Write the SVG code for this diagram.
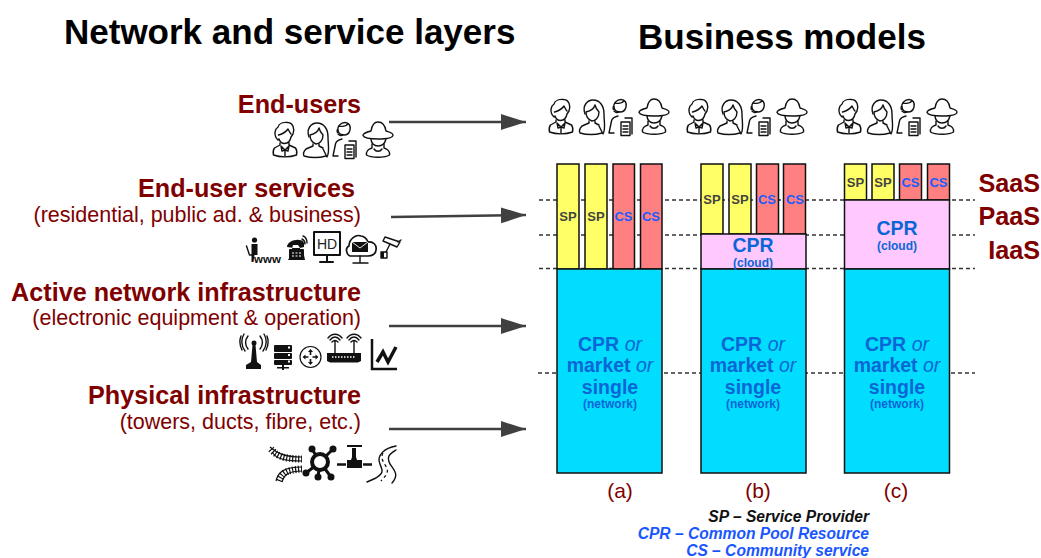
<svg xmlns="http://www.w3.org/2000/svg" xmlns:xlink="http://www.w3.org/1999/xlink" width="1041" height="558" viewBox="0 0 1041 558">
<style>
text{font-family:"Liberation Sans",Arial,sans-serif}
.h{font-size:35px;font-weight:700;fill:#000}
.t{font-size:25.2px;font-weight:700;fill:#800000;text-anchor:end}
.s{font-size:21.5px;fill:#800000;text-anchor:end}
.l{font-size:21px;fill:#800000;text-anchor:middle}
.k{font-size:25.2px;font-weight:700;fill:#800000;text-anchor:end}
.bar{stroke:#111;stroke-width:1.5}
.y{fill:#ffff66}.r{fill:#ff8080}.b{fill:#00ddff}.p{fill:#ffc8ff}
.sp{font-size:13px;font-weight:700;fill:#444;text-anchor:middle}
.cs{font-size:13px;font-weight:700;fill:#1a5cff;text-anchor:middle}
.c1{font-size:19.500px;font-weight:700;fill:#0a66d6;text-anchor:middle}
.c1 .i{font-weight:400;font-style:italic}
.c2{font-size:12px;font-weight:700;fill:#0a66d6;text-anchor:middle}
.leg{font-size:15.600px;font-weight:700;font-style:italic;text-anchor:end}
.d{stroke:#333;stroke-width:1.4;stroke-dasharray:4 3;fill:none}
.a{stroke:#404040;stroke-width:2.6;fill:none}
.ln{fill:none;stroke:#111;stroke-width:1.4;stroke-linecap:round;stroke-linejoin:round}
.f{fill:#111;stroke:none}
</style>
<defs>
<marker id="ah" markerUnits="userSpaceOnUse" markerWidth="26" markerHeight="18" refX="25" refY="8" orient="auto"><path d="M0 0L25 8L0 16Z" fill="#404040"/></marker>
<symbol id="people" overflow="visible" viewBox="0 0 122 38" width="122" height="38">
<g class="ln" stroke-width="1.500">
<path d="M5 18C0 13 2 7 5 5C6 1 11 0 15 0.500C20 1 22 7 20 12L18 15C17 20 14 21.500 11.500 21.500C9 21.500 7 20 6 17Z"/>
<path d="M5.500 13C9 12 13 10 15 7C16 9 17 11 18 12"/>
<path d="M7 21V23L1.500 26C0 28 0 31 0.500 33C7 35.500 17 35.500 23.500 33C24 31 24 28 22.500 26L16 23V21"/>
<path d="M8 24L12 28L16 24L15 29L12 28L9 29Z"/><path d="M12 28V34"/>
<path d="M36 15C33 7 38 1 44 1C51 1 55 7 55 15C55 23 57 30 54 35L50 27"/>
<path d="M37 13C41 12 45 10 46 6C47 10 49 12 50 13C50 19 46 22 43 22C40 21 37 18 37 13Z"/>
<path d="M40 22V24L33 27C31 29 30 32 31 34C38 36 46 36 53 34"/><path d="M46 22V24L50 26"/>
<path d="M65 9C64 4 68 0.500 72 0.500C76 0.500 78 4 77 8C76 12 73 13 71 13C68 13 66 12 65 9Z"/>
<path d="M66 4C69 5 73 4 75 2"/><rect class="f" x="63.500" y="7" width="2" height="4" rx="1"/><path d="M65 12C67 14 69 14 70 12.500"/>
<path d="M69 17C65 18 63 19 62.500 22L60 34H65"/>
<path d="M76 19H83V35"/><path d="M72 23H81V36.500H72Z"/>
<path d="M74 27H79M74 30H79M74 33H79"/>
<path d="M98 9C94 10 90 11 90 13.500C91 16 99 17 105 17C112 17 120 16 120 13C120 11 116 10 113 9C112 3 109 0 105 0C101 0 99 3 98 9Z"/>
<path d="M98 17C98 21 101 24 105 24C109 24 112 21 113 17"/>
<path d="M99 22V26C95 27 93 30 93.500 33C98 36 112 36 116.500 33C117 30 115 27 111 26V22"/><path d="M101 27C103 30 107 30 109 27"/>
</g>
</symbol>
</defs>
<g id="titles">
<text class="h" x="64" y="43.500">Network and service layers</text>
<text class="h" x="638" y="48.500">Business models</text>
</g>
<g id="connectors">
<path class="a" d="M389 122H526" marker-end="url(#ah)"/>
<path class="a" d="M391 217L526 215" marker-end="url(#ah)"/>
<path class="a" d="M389 326H526" marker-end="url(#ah)"/>
<path class="a" d="M389 429H526" marker-end="url(#ah)"/>
<path class="d" d="M539 200H975M539 235H975M539 268.500H975M538 373H975"/>
</g>
<g id="layer-end-users">
<text class="t" x="361" y="112.500">End-users</text>
<use href="#people" x="273" y="122"/>
</g>
<g id="layer-services">
<text class="t" x="355" y="196.500">End-user services</text>
<text class="s" x="361" y="221.500">(residential, public ad. &amp; business)</text>
<g transform="translate(230 85)">
<circle class="f" cx="24.500" cy="155" r="2.600"/><path class="f" d="M21.500 159H27.500V170H24.500L23.500 177H21.500Z"/><path class="ln" d="M16.500 161L19.500 170H22"/>
<text x="24" y="178" font-size="11.500" font-weight="700" fill="#111">www</text>
<path class="f" d="M57 162C57 155 72 152 74 158V162L70 163L68 160H63L62 164L64 165L58 175H75L73 165L70 164V163H64Z"/><rect class="f" x="59" y="164" width="15" height="11" rx="1"/>
<path d="M62 168H71M62 171H71" stroke="#fff" stroke-dasharray="2 1.500"/>
<path class="ln" d="M72 154C74 155 75 157 75 159M73 151C76 152 77 155 77 158"/>
<rect class="ln" x="84" y="147" width="26" height="23" style="stroke-width:2"/><path class="ln" d="M97 170V176M90 177H103" style="stroke-width:2"/>
<text x="97" y="163.500" font-size="14" fill="#222" text-anchor="middle">HD</text>
<path class="ln" d="M120 171C116 169 115 163 119 161C119 154 126 149 131 151C134 151 137 154 138 157C143 156 147 160 146 165C146 169 142 171 138 171Z" style="stroke-width:1.700"/>
<rect class="f" x="122" y="157" width="16" height="10"/><path d="M122 157L130 163L138 157" stroke="#fff" fill="none" stroke-width=".9"/>
<path class="ln" d="M130 171V177M123 178H138"/>
<path class="ln" d="M155 152L170 157L167 162L153 156Z"/><path class="ln" d="M168 157L171 155"/><path class="ln" d="M160 159L156 167"/>
<rect class="f" x="151" y="167" width="3" height="6"/><rect class="ln" x="151" y="167" width="6" height="6"/>
</g>
</g>
<g id="layer-active">
<text class="t" x="361" y="300.500">Active network infrastructure</text>
<text class="s" x="361" y="324.500">(electronic equipment &amp; operation)</text>
<g transform="translate(230 325)">
<circle class="f" cx="24" cy="18" r="2.500"/><path class="f" d="M22.500 20H25.500L27 37L31 40V44H16V40L21 37Z"/>
<path class="ln" d="M18 11C15 15 15 20 18 24M14 9C11 14 11 21 15 26M11 11C9 16 10 21 12 25M30 11C33 15 33 20 30 24M34 9C37 14 37 21 33 26M37 11C39 16 38 21 36 25"/>
<rect class="f" x="44" y="20" width="18" height="7" rx="1"/><rect class="f" x="44" y="28" width="18" height="6" rx="1"/><rect class="f" x="44" y="35" width="18" height="5" rx="1"/>
<path d="M58 22.500H60M58 30H60M58 36.500H60" stroke="#fff" stroke-width="2"/>
<path class="f" d="M52 40H54V42H59V43.500H54V45H52V43.500H47V42H52Z"/>
<circle cx="80.500" cy="32" r="10.500" fill="none" stroke="#111" stroke-width="1.200"/>
<path class="f" d="M80.500 24L83 27H81.300V30H79.700V27H78ZM80.500 40L78 37H79.700V34H81.300V37H83ZM72.500 32L75.500 29.500V31.200H78.500V32.800H75.500V34.500ZM88.500 32L85.500 34.500V32.800H82.500V31.200H85.500V29.500Z"/>
<path class="f" d="M97 28H131V36L128 37.500H100L97 36Z"/><path d="M102 32H126" stroke="#fff" stroke-width="1.500" stroke-dasharray="1.500 1.500"/>
<path class="ln" d="M105 28V16M124 28V16M100 15C103 11 107 11 110 15M119 15C122 11 126 11 129 15M102 17C104 15 106 15 108 17M121 17C123 15 125 15 127 17M98 13C102 8 108 8 112 13M117 13C121 8 127 8 131 13"/>
<path d="M142 14V44H167" fill="none" stroke="#111" stroke-width="2.500"/>
<path d="M147 37L153 27L158 37L166 22" fill="none" stroke="#111" stroke-width="3.500"/>
</g>
</g>
<g id="layer-physical">
<text class="t" x="361" y="403.500">Physical infrastructure</text>
<text class="s" x="361" y="428.500">(towers, ducts, fibre, etc.)</text>
<g transform="translate(230 325)">
<path d="M41 124C46 130 52 134 72 134M49 156C52 148 56 145 72 144" fill="none" stroke="#111" stroke-width="7" stroke-dasharray="1.200 1.800"/>
<path d="M40 122C46 127 52 132 72 132M42 127C46 133 52 136 72 136M46 156C48 147 54 142 72 142M52 157C54 150 58 146 72 146" fill="none" stroke="#111" stroke-width="1.200"/>
<path d="M90 137L82 124M90 137L103 124M90 137L76 148M90 137L88 152M90 137L101 152" stroke="#111" stroke-width="3"/>
<circle cx="90" cy="137" r="8" fill="#fff" stroke="#111" stroke-width="4"/>
<circle class="f" cx="82" cy="124" r="3.500"/><circle class="f" cx="103" cy="124" r="3.500"/><circle class="f" cx="76" cy="148" r="3.500"/><circle class="f" cx="88" cy="152" r="3.500"/><circle class="f" cx="101" cy="152" r="3.500"/>
<path d="M107 139.500H116M133 139.500H142" stroke="#111" stroke-width="2.500"/>
<path class="f" d="M117 135H121L122 132H122V123H126V132H126L127 135H132V143H117Z"/><path d="M117 121H132" stroke="#111" stroke-width="2"/>
<path class="ln" d="M166 121C155 123 146 130 150 139C152 145 155 147 146 153L137 157"/>
<path class="ln" d="M166 125C160 129 156 131 160 139C165 146 169 150 162 158"/>
<path d="M153 128C150 133 154 138 157 143C159 149 154 152 151 156" fill="none" stroke="#111" stroke-width="1.300" stroke-dasharray="3 3"/>
</g>
</g>
<g id="model-a">
<use href="#people" x="549" y="99"/>
<rect class="bar y" x="557" y="164" width="22" height="105"/><rect class="bar y" x="585" y="164" width="22" height="105"/><rect class="bar r" x="613" y="164" width="21.500" height="105"/><rect class="bar r" x="640.500" y="164" width="21.500" height="105"/>
<rect class="bar b" x="557" y="269" width="105" height="204"/>
<text class="sp" x="568" y="221">SP</text><text class="sp" x="596" y="221">SP</text><text class="cs" x="623.500" y="221">CS</text><text class="cs" x="651" y="221">CS</text>
<text class="c1" x="610" y="351">CPR <tspan class="i">or</tspan></text><text class="c1" x="610" y="372">market <tspan class="i">or</tspan></text><text class="c1" x="610" y="394">single</text><text class="c2" x="610" y="408">(network)</text>
<text class="l" x="620" y="498">(a)</text>
</g>
<g id="model-b">
<use href="#people" x="687" y="99"/>
<rect class="bar y" x="701" y="164" width="22" height="70"/><rect class="bar y" x="729" y="164" width="22" height="70"/><rect class="bar r" x="756.500" y="164" width="22" height="70"/><rect class="bar r" x="783.500" y="164" width="22" height="70"/>
<rect class="bar p" x="701" y="234" width="105" height="35"/><rect class="bar b" x="701" y="269" width="105" height="204"/>
<text class="sp" x="712" y="204">SP</text><text class="sp" x="740" y="204">SP</text><text class="cs" x="767" y="204">CS</text><text class="cs" x="795" y="204">CS</text>
<text class="c1" x="753" y="252">CPR</text><text class="c2" x="753" y="267">(cloud)</text>
<text class="c1" x="753" y="351">CPR <tspan class="i">or</tspan></text><text class="c1" x="753" y="372">market <tspan class="i">or</tspan></text><text class="c1" x="753" y="394">single</text><text class="c2" x="753" y="408">(network)</text>
<text class="l" x="758" y="498">(b)</text>
</g>
<g id="model-c">
<use href="#people" x="837" y="99"/>
<rect class="bar y" x="844.500" y="164" width="22" height="36"/><rect class="bar y" x="872" y="164" width="22" height="36"/><rect class="bar r" x="899.500" y="164" width="22" height="36"/><rect class="bar r" x="927.500" y="164" width="22" height="36"/>
<rect class="bar p" x="844.500" y="200" width="105" height="69"/><rect class="bar b" x="844.500" y="269" width="105" height="204"/>
<text class="sp" x="855.500" y="187">SP</text><text class="sp" x="883" y="187">SP</text><text class="cs" x="910.500" y="187">CS</text><text class="cs" x="938.500" y="187">CS</text>
<text class="c1" x="897" y="235">CPR</text><text class="c2" x="897" y="250">(cloud)</text>
<text class="c1" x="897" y="351">CPR <tspan class="i">or</tspan></text><text class="c1" x="897" y="372">market <tspan class="i">or</tspan></text><text class="c1" x="897" y="394">single</text><text class="c2" x="897" y="408">(network)</text>
<text class="l" x="896" y="498">(c)</text>
</g>
<g id="service-labels">
<text class="k" x="1040" y="191.500">SaaS</text><text class="k" x="1040" y="224.500">PaaS</text><text class="k" x="1040" y="258.500">IaaS</text>
</g>
<g id="legend">
<text class="leg" x="869" y="521.500" fill="#111">SP – Service Provider</text>
<text class="leg" x="869" y="538.500" fill="#1a56ff">CPR – Common Pool Resource</text>
<text class="leg" x="869" y="555.500" fill="#1a56ff">CS – Community service</text>
</g>
</svg>
